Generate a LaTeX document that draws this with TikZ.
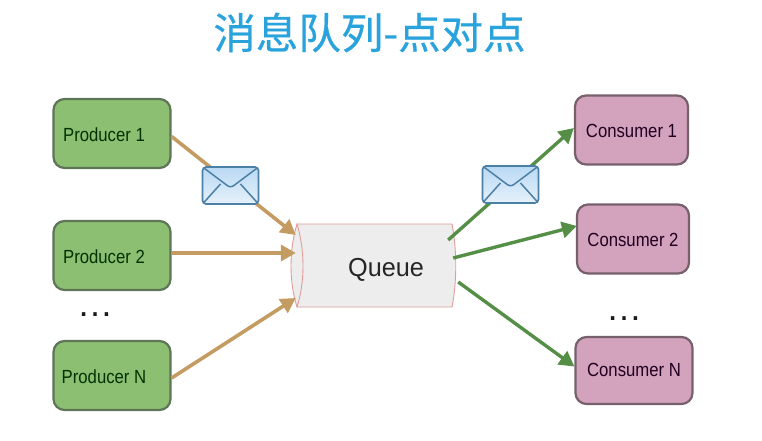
\documentclass[tikz,border=0pt]{standalone}
\usepackage{fontspec}
\setmainfont{Liberation Sans}
\newfontfamily\cjk[FakeBold=0.5]{Noto Sans CJK SC}
\usetikzlibrary{arrows.meta}
\definecolor{prodfill}{HTML}{8CBF72}
\definecolor{prodline}{HTML}{5E7558}
\definecolor{consfill}{HTML}{D3A2BC}
\definecolor{consline}{HTML}{75606C}
\definecolor{tanarrow}{HTML}{C49C62}
\definecolor{greenarrow}{HTML}{558F47}
\definecolor{queuefill}{HTML}{EDEDED}
\definecolor{queueline}{HTML}{E29C9C}
\definecolor{titleblue}{HTML}{2AA3DC}
\definecolor{envline}{HTML}{4C7FA6}
\definecolor{envtop}{HTML}{B9D9F4}
\definecolor{envbot}{HTML}{E6F1FA}
\newcommand{\narrowtext}[1]{\scalebox{.88}[1]{#1}}
\newcommand{\plabel}[1]{\narrowtext{#1}\kern16pt}
\tikzset{
  x=1pt,y=-1pt,
  boxbase/.style={draw,line width=2.2pt,rounded corners=11pt,font=\fontsize{19}{22}\selectfont,inner sep=0pt,text depth=0pt},
  prodbox/.style={boxbase,fill=prodfill,draw=prodline,minimum width=117pt,minimum height=69pt,text=black!80!green,text height=16pt},
  consbox/.style={boxbase,fill=consfill,draw=consline,minimum height=69pt,text=black!75!violet,text height=14.6pt},
  inarrow/.style={draw=tanarrow,line width=3.6pt,-{Triangle[length=15pt,width=16pt]}},
  outarrow/.style={draw=greenarrow,line width=3.4pt,-{Triangle[length=15pt,width=16pt]}},
  envelope/.style={draw=envline,line width=1.6pt,rounded corners=3.5pt,minimum width=56pt,minimum height=37pt,inner sep=0pt,
    top color=envtop,bottom color=envbot,
    path picture={
      \draw[envline,line width=1.5pt]
        (path picture bounding box.north west) -- ([yshift=-21pt]path picture bounding box.north)
        -- (path picture bounding box.north east);
      \draw[envline,line width=1.5pt]
        (path picture bounding box.south west) -- ([xshift=18pt,yshift=20pt]path picture bounding box.south west);
      \draw[envline,line width=1.5pt]
        (path picture bounding box.south east) -- ([xshift=-18pt,yshift=20pt]path picture bounding box.south east);
    }},
  dotslabel/.style={font=\fontsize{36}{36}\selectfont,text=black!90,inner sep=0pt,anchor=base}
}
\begin{document}
\begin{tikzpicture}
\useasboundingbox (0,0) rectangle (762,441);
\node[text=titleblue,font=\cjk\fontsize{42.5}{46}\selectfont,inner sep=0pt] (title) at (369.5,32.5) {消息队列-点对点};

\node[prodbox] (p1) at (112,133.5) {\plabel{Producer 1}};
\node[prodbox] (p2) at (112,255.5) {\plabel{Producer 2}};
\node[prodbox] (pn) at (112,375.5) {\plabel{Producer N}};
\node[consbox,minimum width=113pt] (c1) at (631.5,130) {\narrowtext{Consumer 1}};
\node[consbox,minimum width=112pt] (c2) at (633,239) {\narrowtext{Consumer 2}};
\node[consbox,minimum width=117pt,minimum height=67pt,text height=11pt] (cn) at (634,370.5) {\narrowtext{Consumer N}};

% queue body
\fill[queuefill] (297,224) -- (452,224) .. controls (457,250) and (457,282) .. (452,307) -- (297,307)
   .. controls (289,282) and (289,250) .. (297,224) -- cycle;
\draw[queueline,line width=.9pt] (297,224) -- (452,224) .. controls (457,250) and (457,282) .. (452,307) -- (297,307);
\draw[queueline,line width=.9pt] (297,224) .. controls (289,250) and (289,282) .. (297,307)
   .. controls (305,282) and (305,250) .. (297,224) -- cycle;
\node[inner sep=0pt,minimum width=158pt,minimum height=83pt,font=\fontsize{26}{28}\selectfont,text=black!85,text height=21.6pt,text depth=0pt] (q) at (375,265.5) {\kern22pt\scalebox{.97}[1]{Queue}};

\draw[inarrow] ([yshift=-3pt]p1.east) -- ([yshift=30.5pt]q.west);
\draw[inarrow] ([yshift=2.5pt]p2.east) -- ([yshift=12.5pt]q.west);
\draw[inarrow] ([yshift=-2.5pt]pn.east) -- ([yshift=-32.5pt]q.west);
\draw[outarrow] ([xshift=-6pt,yshift=25.5pt]q.east) -- ([yshift=2pt]c1.west);
\draw[outarrow] ([xshift=-1pt,yshift=7.5pt]q.east) -- ([xshift=1pt,yshift=13pt]c2.west);
\draw[outarrow] ([xshift=4pt,yshift=-16.5pt]q.east) -- ([yshift=4pt]cn.west);

\node[envelope] (e1) at (230.5,185.5) {};
\node[envelope] (e2) at (510.5,184.5) {};

\node[dotslabel] (d1) at (95,316) {…};
\node[dotslabel] (d2) at (624,320) {…};
\end{tikzpicture}
\end{document}
